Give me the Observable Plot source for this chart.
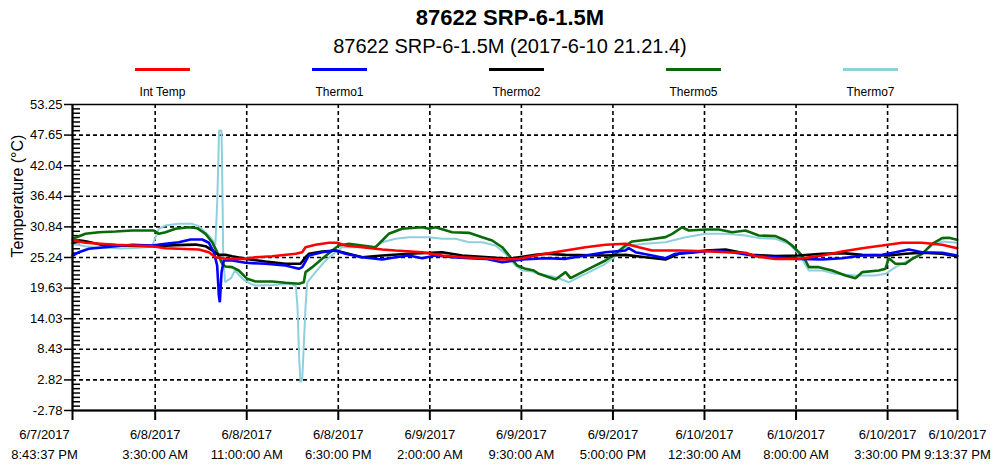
<!DOCTYPE html>
<html><head><meta charset="utf-8">
<script src="https://cdn.jsdelivr.net/npm/d3@7"></script>
<script src="https://cdn.jsdelivr.net/npm/@observablehq/plot@0.6"></script>
<style>
body{margin:0;background:#fff;font-family:"Liberation Sans",Arial,sans-serif;color:#000;}
#wrap{position:relative;width:1000px;height:465px;overflow:hidden;}
#head{position:relative;height:98px;}
.t{position:absolute;left:0;width:1000px;text-align:center;white-space:nowrap;}
#title{top:5px;font-size:22px;font-weight:bold;line-height:26px;left:10px;}
#subtitle{top:33px;font-size:20px;line-height:26px;left:10px;}
#legend{position:absolute;top:66px;left:74px;display:flex;}
.item{width:177px;text-align:center;}
.sw{width:55px;height:3px;margin:2px auto 0 auto;}
.lab{font-size:12px;margin-top:14px;line-height:14px;}
#chart svg{display:block;}
</style></head>
<body><div id="wrap"><div id="head">
<div class="t" id="title">87622 SRP-6-1.5M</div>
<div class="t" id="subtitle">87622 SRP-6-1.5M (2017-6-10 21.21.4)</div>
<div id="legend"></div>
</div><div id="chart"></div></div>
<script>
// ---------- data ----------
const seriesNames = ["Int Temp", "Thermo1", "Thermo2", "Thermo5", "Thermo7"];
const seriesColors = ["#ff0000", "#0000ff", "#000000", "#0a6a0a", "#8ed0dc"];
const startTime = "2017-06-07T20:43:37";
const endTime = "2017-06-10T21:13:37";
const xTickTimes = ["2017-06-07T20:43:37", "2017-06-08T03:30:00", "2017-06-08T11:00:00", "2017-06-08T18:30:00",
  "2017-06-09T02:00:00", "2017-06-09T09:30:00", "2017-06-09T17:00:00", "2017-06-10T00:30:00",
  "2017-06-10T08:00:00", "2017-06-10T15:30:00", "2017-06-10T21:13:37"];
const yTicks = [-2.78, 2.82, 8.43, 14.03, 19.63, 25.24, 30.84, 36.44, 42.04, 47.65, 53.25];

// hours since start time, and temperature (°C)
const intTempHours = [0.02,1.06,3.52,6.53,7.62,10.35,11.17,11.71,12.53,14.17,14.99,16.36,18.27,18.82,19.09,19.91,21.0,21.68,22.36,23.73,25.37,26.46,28.65,30.29,31.92,33.56,35.2,36.56,37.66,38.75,40.39,42.03,43.66,45.3,46.39,47.49,49.67,51.86,53.5,55.13,55.95,57.59,59.5,61.42,63.05,64.69,66.33,67.97,69.6,71.24,72.47];
const intTempValues = [28.35,27.93,27.56,27.3,26.94,26.7,26.21,25.29,24.99,24.99,25.29,25.47,25.91,26.21,27.12,27.56,27.93,27.93,27.43,27.12,26.7,26.52,26.21,25.6,25.29,25.1,24.87,24.99,25.47,25.91,26.52,27.12,27.56,27.74,27.12,26.52,26.52,26.39,26.21,26.1,25.47,24.99,24.99,25.6,26.33,26.94,27.43,27.93,27.93,27.56,26.94];

const thermo1Hours = [0.02,0.52,1.34,3.52,4.89,6.53,7.62,8.71,9.67,10.63,11.17,11.58,11.85,11.99,12.07,12.21,12.39,13.08,14.17,15.81,17.45,18.54,18.82,19.36,20.46,21.55,22.36,23.73,25.37,26.46,27.55,28.65,29.74,31.1,32.47,33.83,35.2,36.84,38.75,40.39,42.03,43.66,45.3,45.57,46.12,47.49,48.58,49.4,50.77,52.4,54.04,55.68,57.59,59.5,61.42,63.05,64.69,66.33,67.42,68.51,69.6,71.24,72.47];
const thermo1Values = [25.6,26.21,26.83,27.3,27.56,27.43,27.74,28.04,28.53,28.53,27.93,26.21,23.77,18.28,17.05,22.55,24.69,24.69,24.26,24.08,23.77,23.16,23.47,25.6,26.21,26.52,25.91,25.29,24.87,25.29,25.6,25.1,25.6,25.29,25.1,24.99,24.38,24.87,25.1,24.99,25.6,26.21,26.52,26.94,26.21,25.6,25.1,25.91,26.1,26.52,26.21,25.6,25.29,24.99,24.87,25.1,25.6,25.72,26.21,26.7,26.21,26.1,25.6];

const thermo2Hours = [0.02,0.66,1.06,2.29,4.75,6.8,8.44,10.08,10.9,11.47,11.96,12.53,13.08,14.17,15.81,17.45,18.68,19.09,19.36,20.46,21.55,23.73,25.37,27.55,30.29,31.92,34.1,35.74,37.93,38.75,40.39,43.66,45.3,46.94,48.58,49.67,51.86,53.5,55.68,57.59,59.5,61.42,63.05,64.69,66.87,68.24,69.6,71.24,72.47];
const thermo2Values = [27.9,28.35,28.2,27.6,27.4,27.3,27.5,27.6,27.3,26.5,25.72,25.72,25.47,24.99,24.5,24.08,24.08,25.29,25.91,26.33,26.52,25.29,25.6,25.91,26.21,25.6,25.29,24.99,25.72,25.91,25.72,25.6,25.72,25.29,24.87,25.91,26.52,26.7,25.72,25.5,25.6,25.91,26.04,25.72,25.6,25.91,26.1,25.91,25.47];

const thermo5Hours = [0.03,1.06,2.16,3.52,4.89,6.66,7.07,7.62,8.44,9.53,10.21,10.9,11.44,11.85,12.26,12.53,13.08,13.62,14.31,14.99,16.36,17.45,18.54,18.95,19.09,19.64,20.45,21.27,21.82,22.64,23.73,24.82,25.37,25.91,27.0,28.65,29.19,29.74,31.1,32.47,33.56,34.38,35.2,35.88,36.43,37.11,37.79,38.2,39.57,40.39,40.8,41.48,42.57,43.66,44.48,45.3,45.85,47.21,48.58,49.13,49.94,50.49,51.86,52.95,54.04,55.13,56.22,57.59,58.41,58.96,59.64,60.05,60.32,61.14,62.23,63.32,64.14,64.69,66.05,66.6,66.87,67.42,68.24,68.79,69.6,70.42,71.24,71.79,72.47];
const thermo5Values = [28.66,29.57,29.87,29.99,30.18,30.18,29.57,29.87,30.49,30.78,30.6,29.57,28.04,26.21,24.08,23.59,23.47,22.85,21.33,20.84,20.84,20.6,20.42,20.7,22.55,23.47,24.99,26.52,27.43,27.74,27.43,27.12,28.35,29.57,30.49,30.78,30.49,30.78,29.87,29.75,28.96,28.35,27.12,25.29,23.77,23.16,22.85,22.25,21.2,22.55,21.45,22.25,23.47,24.69,25.91,27.43,28.17,28.53,28.96,29.57,30.78,30.18,30.36,30.36,29.87,30.18,29.27,29.14,28.35,27.43,25.91,24.69,23.47,23.47,22.85,21.94,21.45,22.55,22.85,23.16,25.1,24.08,24.08,24.99,25.91,27.74,28.78,28.84,28.47];

const thermo7Hours = [0.02,1.0,2.5,4.0,5.5,6.5,7.07,7.62,8.71,9.8,10.35,11.17,11.58,11.7,11.85,11.95,12.0,12.2,12.25,12.35,12.5,13.0,13.3,14.0,14.6,15.0,16.4,17.9,18.3,18.43,18.57,18.68,18.82,19.09,19.23,19.91,20.73,21.55,22.09,23.73,24.82,25.37,26.46,27.55,29.19,30.29,31.38,32.47,33.56,34.65,35.47,36.29,36.84,37.66,38.2,39.57,40.66,41.48,42.57,43.66,44.75,45.57,46.94,48.58,50.22,51.86,53.5,55.13,56.22,57.59,58.68,59.5,60.32,61.42,62.5,64.14,65.78,66.6,67.42,68.51,69.6,70.42,71.24,72.47];
const thermo7Values = [27.74,27.3,27.0,26.9,27.0,27.2,30.49,31.1,31.4,31.4,30.97,29.27,28.04,27.5,35.0,43.0,48.5,48.5,43.0,25.3,20.7,21.5,22.85,21.2,20.4,20.1,20.2,20.42,20.0,16.2,6.7,2.4,3.0,16.2,20.7,22.55,24.69,26.21,27.12,27.12,27.12,28.04,28.66,28.96,28.96,28.66,28.66,28.04,28.04,27.43,25.91,23.77,22.85,22.67,22.25,21.64,20.7,21.64,22.85,24.08,25.91,27.43,27.74,28.04,28.96,29.57,29.57,29.27,28.78,28.66,27.74,25.91,22.85,22.85,22.25,21.94,21.94,22.25,23.47,24.69,25.91,27.43,28.17,27.93];

// ---------- build ----------
const t0 = new Date(startTime), t1 = new Date(endTime);
const toRows = (name, hours, values) => hours.map((h, i) => ({series: name, time: new Date(t0.getTime() + h * 3600000), value: values[i]}));
const seriesData = {
  "Int Temp": toRows("Int Temp", intTempHours, intTempValues),
  "Thermo1": toRows("Thermo1", thermo1Hours, thermo1Values),
  "Thermo2": toRows("Thermo2", thermo2Hours, thermo2Values),
  "Thermo5": toRows("Thermo5", thermo5Hours, thermo5Values),
  "Thermo7": toRows("Thermo7", thermo7Hours, thermo7Values)
};
const colorOf = Object.fromEntries(seriesNames.map((n, i) => [n, seriesColors[i]]));

// legend
const leg = document.getElementById("legend");
seriesNames.forEach((n) => {
  const it = document.createElement("div"); it.className = "item";
  const sw = document.createElement("div"); sw.className = "sw"; sw.style.background = colorOf[n];
  const lb = document.createElement("div"); lb.className = "lab"; lb.textContent = n;
  it.appendChild(sw); it.appendChild(lb); leg.appendChild(it);
});

const xTicks = xTickTimes.map(s => new Date(s));
const minorTicks = [];
for (let i = 0; i < yTicks.length - 1; i++) {
  const step = (yTicks[i + 1] - yTicks[i]) / 7;
  for (let k = 1; k < 7; k++) minorTicks.push(yTicks[i] + k * step);
}

const W = 1000, H = 367, mL = 72, mR = 43, mT = 6, mB = 55;
const innerW = W - mL - mR;
const fmt = d3.timeFormat("%-m/%-d/%Y\n%-I:%M:%S %p");
const drawOrder = ["Thermo7", "Thermo5", "Thermo2", "Thermo1", "Int Temp"];
const axisText = {fontSize: 13, lineHeight: 1.55, label: null};

const chart = Plot.plot({
  width: W, height: H, marginTop: mT, marginRight: mR, marginBottom: mB, marginLeft: mL,
  style: {fontFamily: "'Liberation Sans', Arial, sans-serif", fontSize: "13px", color: "#000", background: "transparent", overflow: "visible"},
  x: {type: "time", domain: [t0, t1]},
  y: {domain: [yTicks[0], yTicks[yTicks.length - 1]]},
  marks: [
    Plot.gridY(yTicks.slice(1, -1), {stroke: "#000", strokeOpacity: 1, strokeWidth: 1.6, strokeDasharray: "4,3"}),
    Plot.gridX(xTicks.slice(1, -1), {stroke: "#000", strokeOpacity: 1, strokeWidth: 1.6, strokeDasharray: "4,3"}),
    Plot.tickY(minorTicks, {y: d => d, insetRight: innerW - 8, stroke: "#000", strokeWidth: 1.5}),
    ...drawOrder.map(n => Plot.line(seriesData[n], {x: "time", y: "value", stroke: colorOf[n], strokeWidth: n === "Thermo7" ? 2 : 2.6, strokeLinejoin: "miter"})),
    Plot.frame({stroke: "#000", strokeWidth: 1.5}),
    Plot.ruleX([t0], {stroke: "#000", strokeWidth: 2}),
    Plot.ruleY([yTicks[0]], {stroke: "#000", strokeWidth: 2}),
    Plot.axisY(yTicks, {tickSize: 8, tickPadding: 2, tickFormat: d => d.toFixed(2), label: null, strokeWidth: 1.5, fontSize: 13}),
    // tick marks for all x ticks, labels for all but the first
    Plot.axisX(xTicks, {...axisText, tickSize: 10, tickPadding: 4, strokeWidth: 2, tickFormat: (d, i) => i === 0 ? "" : fmt(d)}),
    // first label sits left of its tick in the reference
    Plot.axisX([xTicks[0]], {...axisText, tickSize: 0, tickPadding: 14, dx: -28, tickFormat: fmt}),
    Plot.text(["Temperature (°C)"], {frameAnchor: "left", dx: -55, rotate: -90, fontSize: 16})
  ]
});
document.getElementById("chart").appendChild(chart);
</script>
</body></html>
